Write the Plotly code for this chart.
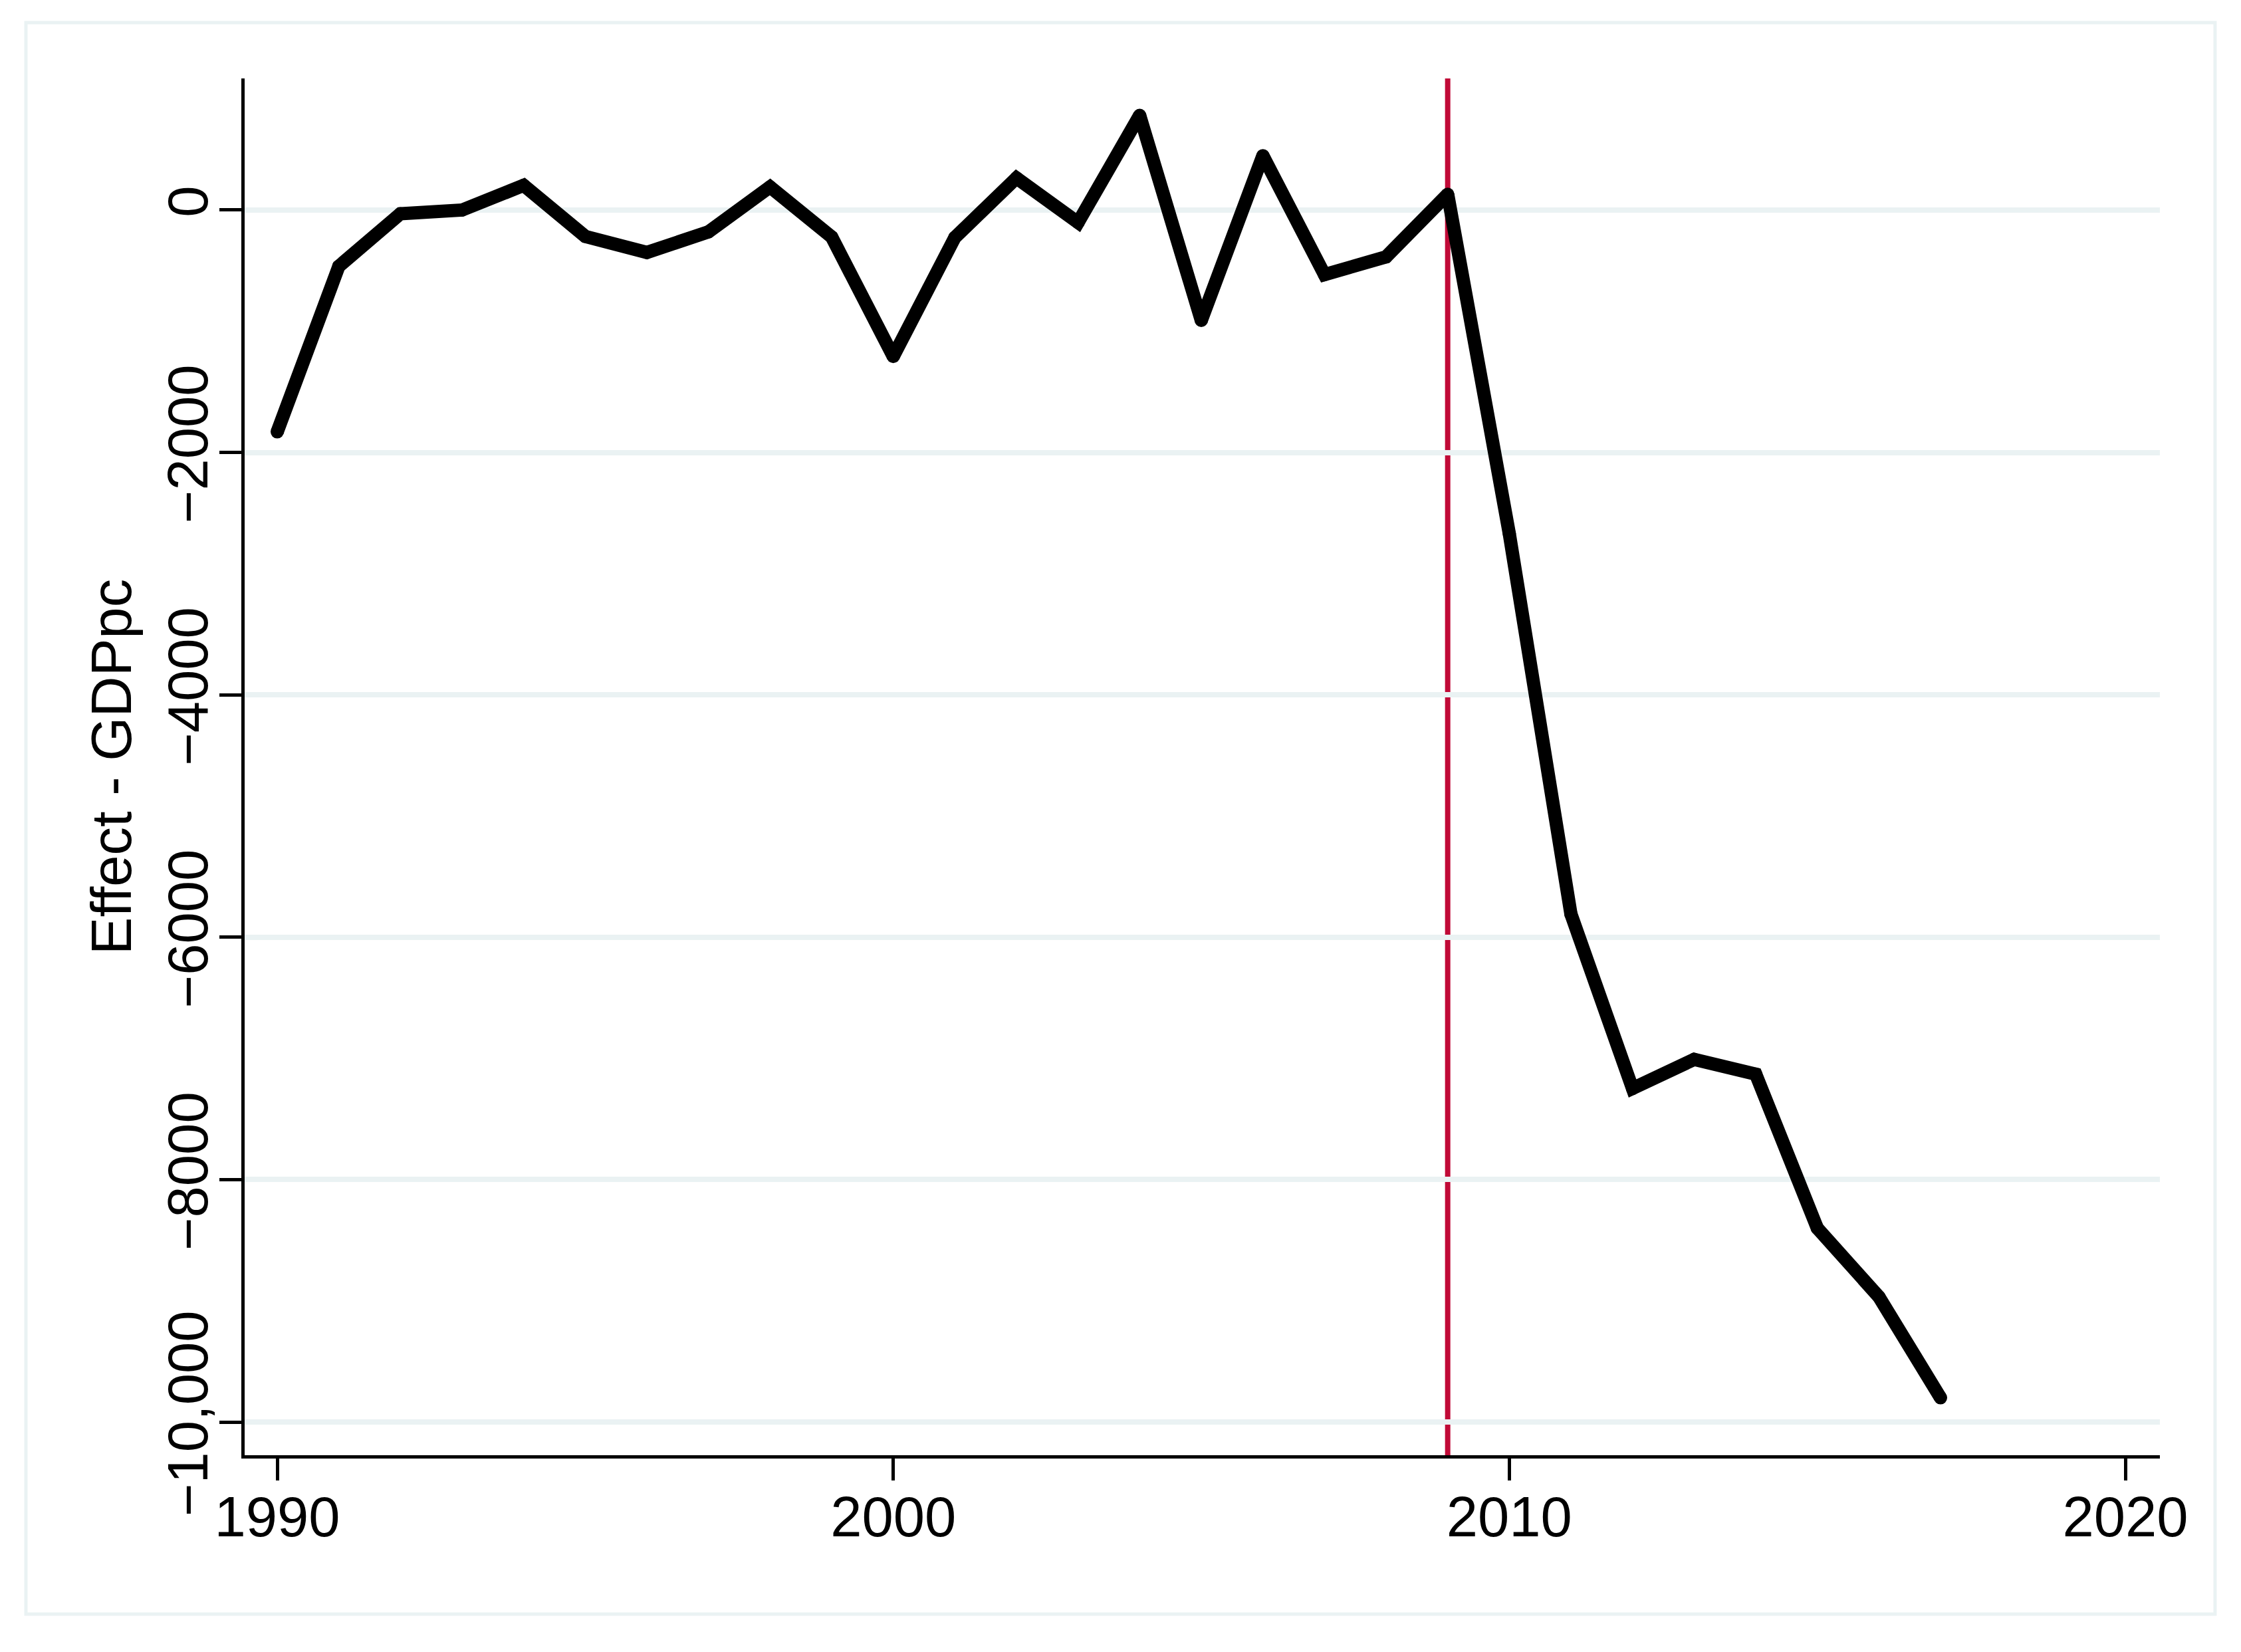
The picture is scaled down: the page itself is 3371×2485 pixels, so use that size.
import plotly.graph_objects as go

# effect estimates
years = list(range(1990, 2018))
effect = [
    -1830, -464, -30, 0, 204, -217, -350, -180, 191, -222,
    -1208, -226, 265, -103, 781, -910, 449, -533, -386, 130,
    -2670, -5808, -7248, -7008, -7130, -8400, -8967, -9800,
]
treatment_year = 2009

y_ticks = [0, -2000, -4000, -6000, -8000, -10000]
y_labels = ["0", "\u22122000", "\u22124000", "\u22126000", "\u22128000", "\u221210,000"]
x_ticks = [1990, 2000, 2010, 2020]

font = dict(family="Arial, Liberation Sans, sans-serif", size=85, color="black")
grid_color = "#EAF2F3"

fig = go.Figure()
fig.add_trace(
    go.Scatter(
        x=years,
        y=effect,
        mode="lines+markers",
        line=dict(color="black", width=20),
        # round joins and caps like the original
        marker=dict(color="black", size=20, line=dict(width=0)),
        showlegend=False,
    )
)

# treatment year marker, drawn between grid and data
fig.add_shape(
    type="line",
    xref="x",
    yref="paper",
    x0=treatment_year,
    x1=treatment_year,
    y0=0,
    y1=1,
    line=dict(color="#C00A37", width=8),
    layer="between",
)

# outer graph region outline
fig.add_shape(
    type="rect",
    xref="paper",
    yref="paper",
    x0=-0.1142,
    x1=1.0288,
    y0=-0.1154,
    y1=1.0406,
    line=dict(color=grid_color, width=5),
    layer="below",
)

fig.update_xaxes(
    range=[1989.471, 2020.561],
    tickvals=x_ticks,
    ticks="outside",
    ticklen=33,
    tickwidth=5,
    tickcolor="black",
    showline=True,
    linecolor="black",
    linewidth=5,
    showgrid=False,
    zeroline=False,
    tickfont=font,
    ticklabelstandoff=-18,
    automargin=False,
)
fig.update_yaxes(
    range=[-10274, 1086],
    tickvals=y_ticks,
    ticktext=y_labels,
    tickangle=-90,
    ticks="outside",
    ticklen=33,
    tickwidth=5,
    tickcolor="black",
    showline=True,
    linecolor="black",
    linewidth=5,
    showgrid=True,
    gridcolor=grid_color,
    gridwidth=8,
    zeroline=False,
    tickfont=font,
    ticklabelstandoff=-16,
    title=dict(text="Effect - GDPpc", font=font, standoff=11),
    automargin=False,
)

# the page body adds an 8px margin, so the figure is 8px smaller and shifted
fig.update_layout(
    width=3363,
    height=2477,
    margin=dict(l=360, r=122, t=110, b=296),
    plot_bgcolor="white",
    paper_bgcolor="white",
    showlegend=False,
)

fig.write_html("out.html")
